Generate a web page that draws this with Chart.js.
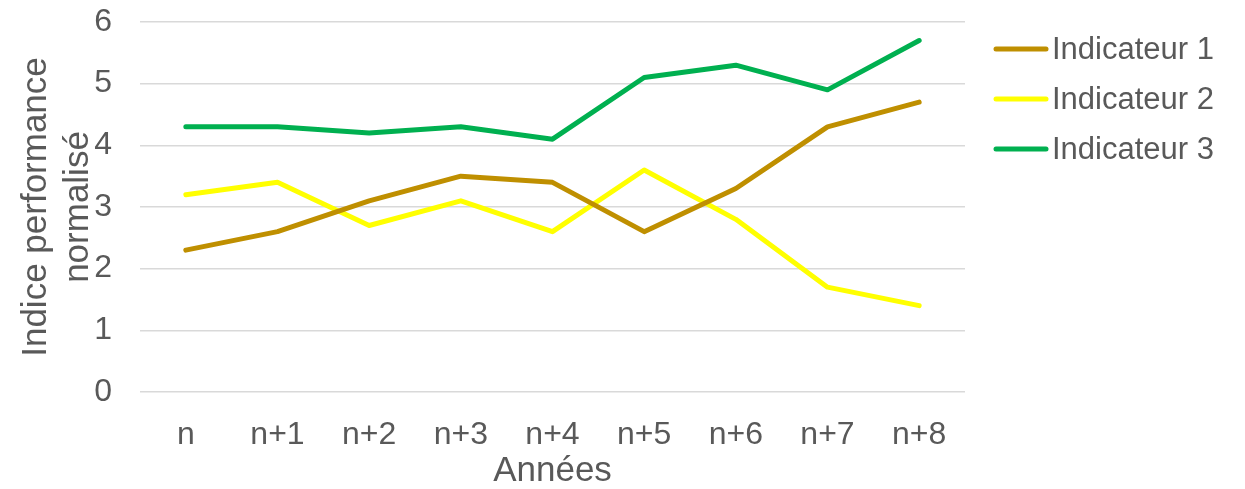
<!DOCTYPE html>
<html>
<head>
<meta charset="utf-8">
<script src="https://cdn.jsdelivr.net/npm/chart.js@4"></script>
<style>
html,body{margin:0;padding:0;background:#fff;}
#wrap{width:1245px;height:489px;position:relative;}
</style>
</head>
<body>
<div id="wrap"><canvas id="c" width="1245" height="489"></canvas></div>
<script>
const categories = ["n","n+1","n+2","n+3","n+4","n+5","n+6","n+7","n+8"];
const seriesNames = ["Indicateur 1","Indicateur 2","Indicateur 3"];
const indicateur1 = [2.3,2.6,3.1,3.5,3.4,2.6,3.3,4.3,4.7];
const indicateur2 = [3.2,3.4,2.7,3.1,2.6,3.6,2.8,1.7,1.4];
const indicateur3 = [4.3,4.3,4.2,4.3,4.1,5.1,5.3,4.9,5.7];
const yTitle = ["Indice performance","normalisé"];
const xTitle = "Années";

const colors = ["#BF8F00","#FFFF00","#00B050"];
const textColor = "#595959";
const FONT = "'Liberation Sans', Arial, sans-serif";

const customLegend = {
  id: 'customLegend',
  afterDraw(chart) {
    const ctx = chart.ctx;
    ctx.save();
    chart.data.datasets.forEach((ds, i) => {
      const y = 49 + i * 50;
      ctx.strokeStyle = ds.borderColor;
      ctx.lineWidth = 5;
      ctx.lineCap = 'round';
      ctx.beginPath();
      ctx.moveTo(996, y);
      ctx.lineTo(1046, y);
      ctx.stroke();
      ctx.fillStyle = textColor;
      ctx.font = "31px " + FONT;
      ctx.textBaseline = 'middle';
      ctx.textAlign = 'left';
      ctx.fillText(ds.label, 1052, y + 1);
    });
    ctx.restore();
  }
};

const data = [indicateur1, indicateur2, indicateur3];
new Chart(document.getElementById('c'), {
  type: 'line',
  data: {
    labels: categories,
    datasets: data.map((d, i) => ({
      label: seriesNames[i],
      data: d,
      borderColor: colors[i],
      backgroundColor: colors[i],
      borderWidth: 5,
      pointRadius: 0,
      pointHoverRadius: 0,
      tension: 0,
      borderCapStyle: 'round',
      borderJoinStyle: 'round',
      fill: false
    }))
  },
  options: {
    responsive: false,
    animation: false,
    layout: { padding: { top: 22, right: 280, left: 0, bottom: 0 } },
    plugins: { legend: { display: false }, tooltip: { enabled: false } },
    scales: {
      x: {
        offset: true,
        grid: { display: false },
        border: { display: false },
        ticks: { color: textColor, font: { family: FONT, size: 32 }, padding: 16, maxRotation: 0 },
        title: { display: true, text: xTitle, color: textColor, font: { family: FONT, size: 35, lineHeight: 1 }, padding: { top: 0, bottom: 0 } },
        afterFit(s) { s.height = 97; s.paddingLeft = 0; s.paddingRight = 0; s.paddingTop = 0; s.paddingBottom = 0; }
      },
      y: {
        min: 0, max: 6,
        ticks: { stepSize: 1, color: textColor, font: { family: FONT, size: 32 }, padding: 28 },
        grid: { color: '#D9D9D9', lineWidth: 1.5, drawTicks: false },
        border: { display: false },
        title: { display: true, text: yTitle, color: textColor, font: { family: FONT, size: 35, lineHeight: 1.2 }, padding: { top: 15, bottom: 0 } },
        afterFit(s) { s.width = 140; s.paddingTop = 0; s.paddingBottom = 0; s.paddingLeft = 0; s.paddingRight = 0; }
      }
    }
  },
  plugins: [customLegend]
});
</script>
</body>
</html>
